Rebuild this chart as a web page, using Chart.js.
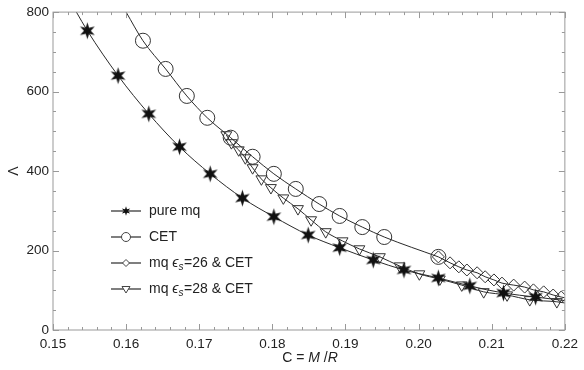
<!DOCTYPE html>
<html>
<head>
<meta charset="utf-8">
<script src="https://cdn.jsdelivr.net/npm/chart.js@4/dist/chart.umd.min.js"></script>
<style>
  body { margin: 0; background: #fff; }
  #c { display: block; }
</style>
</head>
<body>
<canvas id="c" width="584" height="370"></canvas>
<script>
// pure mq (stars)
const mqC = [0.1547, 0.1589, 0.1631, 0.1673, 0.1715, 0.1759, 0.1802, 0.1849, 0.1892, 0.1938, 0.1980, 0.2027, 0.2070, 0.2116, 0.2160];
const mqL = [753, 640, 544, 461, 393, 332, 285, 239, 207, 176, 151, 131, 111, 93, 83];
const mqEndC = [0.1532, 0.2200];
const mqEndL = [800, 74];

// CET (circles)
const cetC = [0.1623, 0.1654, 0.1683, 0.1711, 0.1743, 0.1773, 0.1802, 0.1832, 0.1864, 0.1892, 0.1923, 0.1953, 0.2027];
const cetL = [728, 657, 589, 534, 484, 436, 393, 355, 317, 287, 259, 234, 184];
const cetEndC = [0.1600];
const cetEndL = [800];

// mq eps=26 & CET (diamonds)
const d26C = [0.2027, 0.2043, 0.2055, 0.2066, 0.2080, 0.2091, 0.2103, 0.2114, 0.2130, 0.2145, 0.2157, 0.2171, 0.2184, 0.2195];
const d26L = [184, 169, 159, 151, 144, 134, 126, 118, 113, 108, 101, 96, 88, 83];
const d26EndC = [0.2200];
const d26EndL = [81];

// mq eps=28 & CET (down triangles)
const d28C = [0.1737, 0.1744, 0.1754, 0.1763, 0.1773, 0.1785, 0.1798, 0.1815, 0.1835, 0.1853, 0.1873, 0.1896, 0.1919, 0.1947, 0.1974, 0.2001, 0.2029, 0.2059, 0.2089, 0.2121, 0.2152, 0.2189];
const d28L = [491, 471, 453, 433, 408, 380, 358, 332, 305, 277, 247, 224, 204, 184, 161, 141, 128, 113, 96, 88, 76, 71];
const d28EndC = [0.2200];
const d28EndL = [68];

const xTicks = [0.15, 0.16, 0.17, 0.18, 0.19, 0.20, 0.21, 0.22];
const yTicks = [0, 200, 400, 600, 800];

const FONT = '"Liberation Sans", Arial, "DejaVu Sans", sans-serif';
const INK = '#222';

function makeStar(R, r) {
  const s = Math.ceil(R * 2 + 2);
  const c = document.createElement('canvas');
  c.width = s; c.height = s;
  const g = c.getContext('2d');
  g.translate(s / 2, s / 2);
  g.beginPath();
  for (let i = 0; i < 12; i++) {
    const a = -Math.PI / 2 + i * Math.PI / 6;
    const rr = i % 2 ? r : R;
    g.lineTo(rr * Math.cos(a), rr * Math.sin(a));
  }
  g.closePath();
  g.fillStyle = '#111';
  g.fill();
  return c;
}
const bigStar = makeStar(8.5, 3.4);
const smallStar = makeStar(4.8, 2);

// join marker points with the line ends
function series(cs, ls, startC, startL, endC, endL) {
  const pts = cs.map((c, i) => ({ x: c, y: ls[i] }));
  const head = startC.map((c, i) => ({ x: c, y: startL[i] }));
  const tail = endC.map((c, i) => ({ x: c, y: endL[i] }));
  return { data: head.concat(pts, tail), nHead: head.length, nPts: pts.length };
}
function radii(s, r) {
  return s.data.map((_, i) => (i >= s.nHead && i < s.nHead + s.nPts ? r : 0));
}

const sMq = series(mqC, mqL, [mqEndC[0]], [mqEndL[0]], [mqEndC[1]], [mqEndL[1]]);
const sCet = series(cetC, cetL, cetEndC, cetEndL, [], []);
const s26 = series(d26C, d26L, [], [], d26EndC, d26EndL);
const s28 = series(d28C, d28L, [], [], d28EndC, d28EndL);

const common = {
  borderColor: '#2a2a2a',
  borderWidth: 1,
  cubicInterpolationMode: 'monotone',
  backgroundColor: 'rgba(0,0,0,0)',
  pointBorderColor: '#333',
  pointBackgroundColor: 'rgba(0,0,0,0)',
  pointBorderWidth: 1,
  fill: false
};

// frame + inward ticks, Mathematica style
const framePlugin = {
  id: 'frame',
  afterDatasetsDraw(chart) {
    const { ctx, chartArea: a, scales: { x, y } } = chart;
    ctx.save();
    ctx.strokeStyle = '#999';
    ctx.lineWidth = 1;
    ctx.strokeRect(a.left, a.top, a.right - a.left, a.bottom - a.top);
    ctx.beginPath();
    for (let k = 0; k <= 35; k++) {
      const v = 0.15 + k * 0.002;
      const px = Math.round(x.getPixelForValue(v)) + 0.5;
      const len = k % 5 === 0 ? 6 : 3;
      ctx.moveTo(px, a.bottom); ctx.lineTo(px, a.bottom - len);
      ctx.moveTo(px, a.top); ctx.lineTo(px, a.top + len);
    }
    for (let k = 0; k <= 16; k++) {
      const v = k * 50;
      const py = Math.round(y.getPixelForValue(v)) + 0.5;
      const len = k % 4 === 0 ? 6 : 3;
      ctx.moveTo(a.left, py); ctx.lineTo(a.left + len, py);
      ctx.moveTo(a.right, py); ctx.lineTo(a.right - len, py);
    }
    ctx.stroke();
    ctx.restore();
  }
};

// drawn legend with line + marker, and the x title with italic letters
const legendPlugin = {
  id: 'mathLegend',
  afterDraw(chart) {
    const ctx = chart.ctx;
    const rows = [211, 237, 263, 289];
    ctx.save();
    rows.forEach((ry, i) => {
      ctx.strokeStyle = '#555';
      ctx.lineWidth = 1.5;
      ctx.beginPath();
      ctx.moveTo(111, ry); ctx.lineTo(141, ry);
      ctx.stroke();
      ctx.lineWidth = 1;
      ctx.strokeStyle = '#444';
      const mx = 126;
      if (i === 0) {
        ctx.drawImage(smallStar, mx - smallStar.width / 2, ry - smallStar.height / 2);
      } else if (i === 1) {
        ctx.fillStyle = '#fff';
        ctx.beginPath(); ctx.arc(mx, ry, 4.5, 0, Math.PI * 2); ctx.fill(); ctx.stroke();
      } else if (i === 2) {
        ctx.fillStyle = '#fff';
        ctx.beginPath();
        ctx.moveTo(mx, ry - 3.5); ctx.lineTo(mx + 3.5, ry); ctx.lineTo(mx, ry + 3.5); ctx.lineTo(mx - 3.5, ry);
        ctx.closePath(); ctx.fill(); ctx.stroke();
      } else {
        ctx.fillStyle = '#fff';
        ctx.beginPath();
        ctx.moveTo(mx - 4, ry - 2.5); ctx.lineTo(mx + 4, ry - 2.5); ctx.lineTo(mx, ry + 4);
        ctx.closePath(); ctx.fill(); ctx.stroke();
      }
    });
    ctx.fillStyle = INK;
    ctx.textBaseline = 'middle';
    ctx.textAlign = 'left';
    const norm = '14px ' + FONT;
    const ital = 'italic 14px ' + FONT;
    const sub = 'italic 10px ' + FONT;
    ctx.font = norm;
    ctx.fillText('pure mq', 149, rows[0]);
    ctx.fillText('CET', 149, rows[1]);
    [['26', rows[2]], ['28', rows[3]]].forEach(([n, ry]) => {
      let cx = 149;
      ctx.font = norm; ctx.fillText('mq ', cx, ry); cx += ctx.measureText('mq ').width;
      ctx.font = ital; ctx.fillText('\u03F5', cx, ry); cx += ctx.measureText('\u03F5').width;
      ctx.font = sub; ctx.fillText('s', cx, ry + 4); cx += ctx.measureText('s').width + 0.5;
      ctx.font = norm; ctx.fillText('=' + n + ' & CET', cx, ry);
    });

    // x axis title: C = M/R
    const parts = [['C = ', norm], ['M', ital], [' /', norm], ['R', ital]];
    let w = 0;
    parts.forEach(([t, f]) => { ctx.font = f; w += ctx.measureText(t).width; });
    let tx = 310 - w / 2;
    parts.forEach(([t, f]) => { ctx.font = f; ctx.fillText(t, tx, 358); tx += ctx.measureText(t).width; });
    ctx.restore();
  }
};

new Chart(document.getElementById('c').getContext('2d'), {
  type: 'line',
  data: {
    datasets: [
      Object.assign({}, common, { label: 'pure mq', data: sMq.data, pointStyle: bigStar, pointRadius: radii(sMq, 8) }),
      Object.assign({}, common, { label: 'CET', data: sCet.data, pointStyle: 'circle', pointRadius: radii(sCet, 7.5) }),
      Object.assign({}, common, { label: 'mq es=26 & CET', data: s26.data, pointStyle: 'rectRot', pointRadius: radii(s26, 6) }),
      Object.assign({}, common, { label: 'mq es=28 & CET', data: s28.data, pointStyle: 'triangle', pointRotation: 180, pointRadius: radii(s28, 6.3) })
    ]
  },
  options: {
    responsive: false,
    animation: false,
    devicePixelRatio: 1,
    layout: { padding: { top: 12, right: 16, left: 0, bottom: 0 } },
    plugins: {
      legend: { display: false },
      tooltip: { enabled: false }
    },
    elements: { point: { hitRadius: 0, hoverRadius: 0 } },
    scales: {
      x: {
        type: 'linear',
        min: 0.15,
        max: 0.22,
        afterBuildTicks: (s) => { s.ticks = xTicks.map(v => ({ value: v })); },
        afterFit: (s) => { s.height = 40; },
        grid: { display: false, drawTicks: false, tickLength: 0 },
        border: { display: false },
        ticks: {
          padding: 6,
          color: INK,
          font: { family: FONT, size: 13.5 },
          callback: (v) => Number(v).toFixed(2)
        }
      },
      y: {
        type: 'linear',
        min: 0,
        max: 800,
        afterBuildTicks: (s) => { s.ticks = yTicks.map(v => ({ value: v })); },
        afterFit: (s) => { s.width = 53; },
        grid: { display: false, drawTicks: false, tickLength: 0 },
        border: { display: false },
        title: {
          display: true,
          text: '\u039B',
          color: INK,
          font: { family: FONT, size: 14 },
          padding: { top: 6, bottom: 0 }
        },
        ticks: {
          padding: 4,
          color: INK,
          font: { family: FONT, size: 13.5 },
          callback: (v) => String(v)
        }
      }
    }
  },
  plugins: [framePlugin, legendPlugin]
});
</script>
</body>
</html>
